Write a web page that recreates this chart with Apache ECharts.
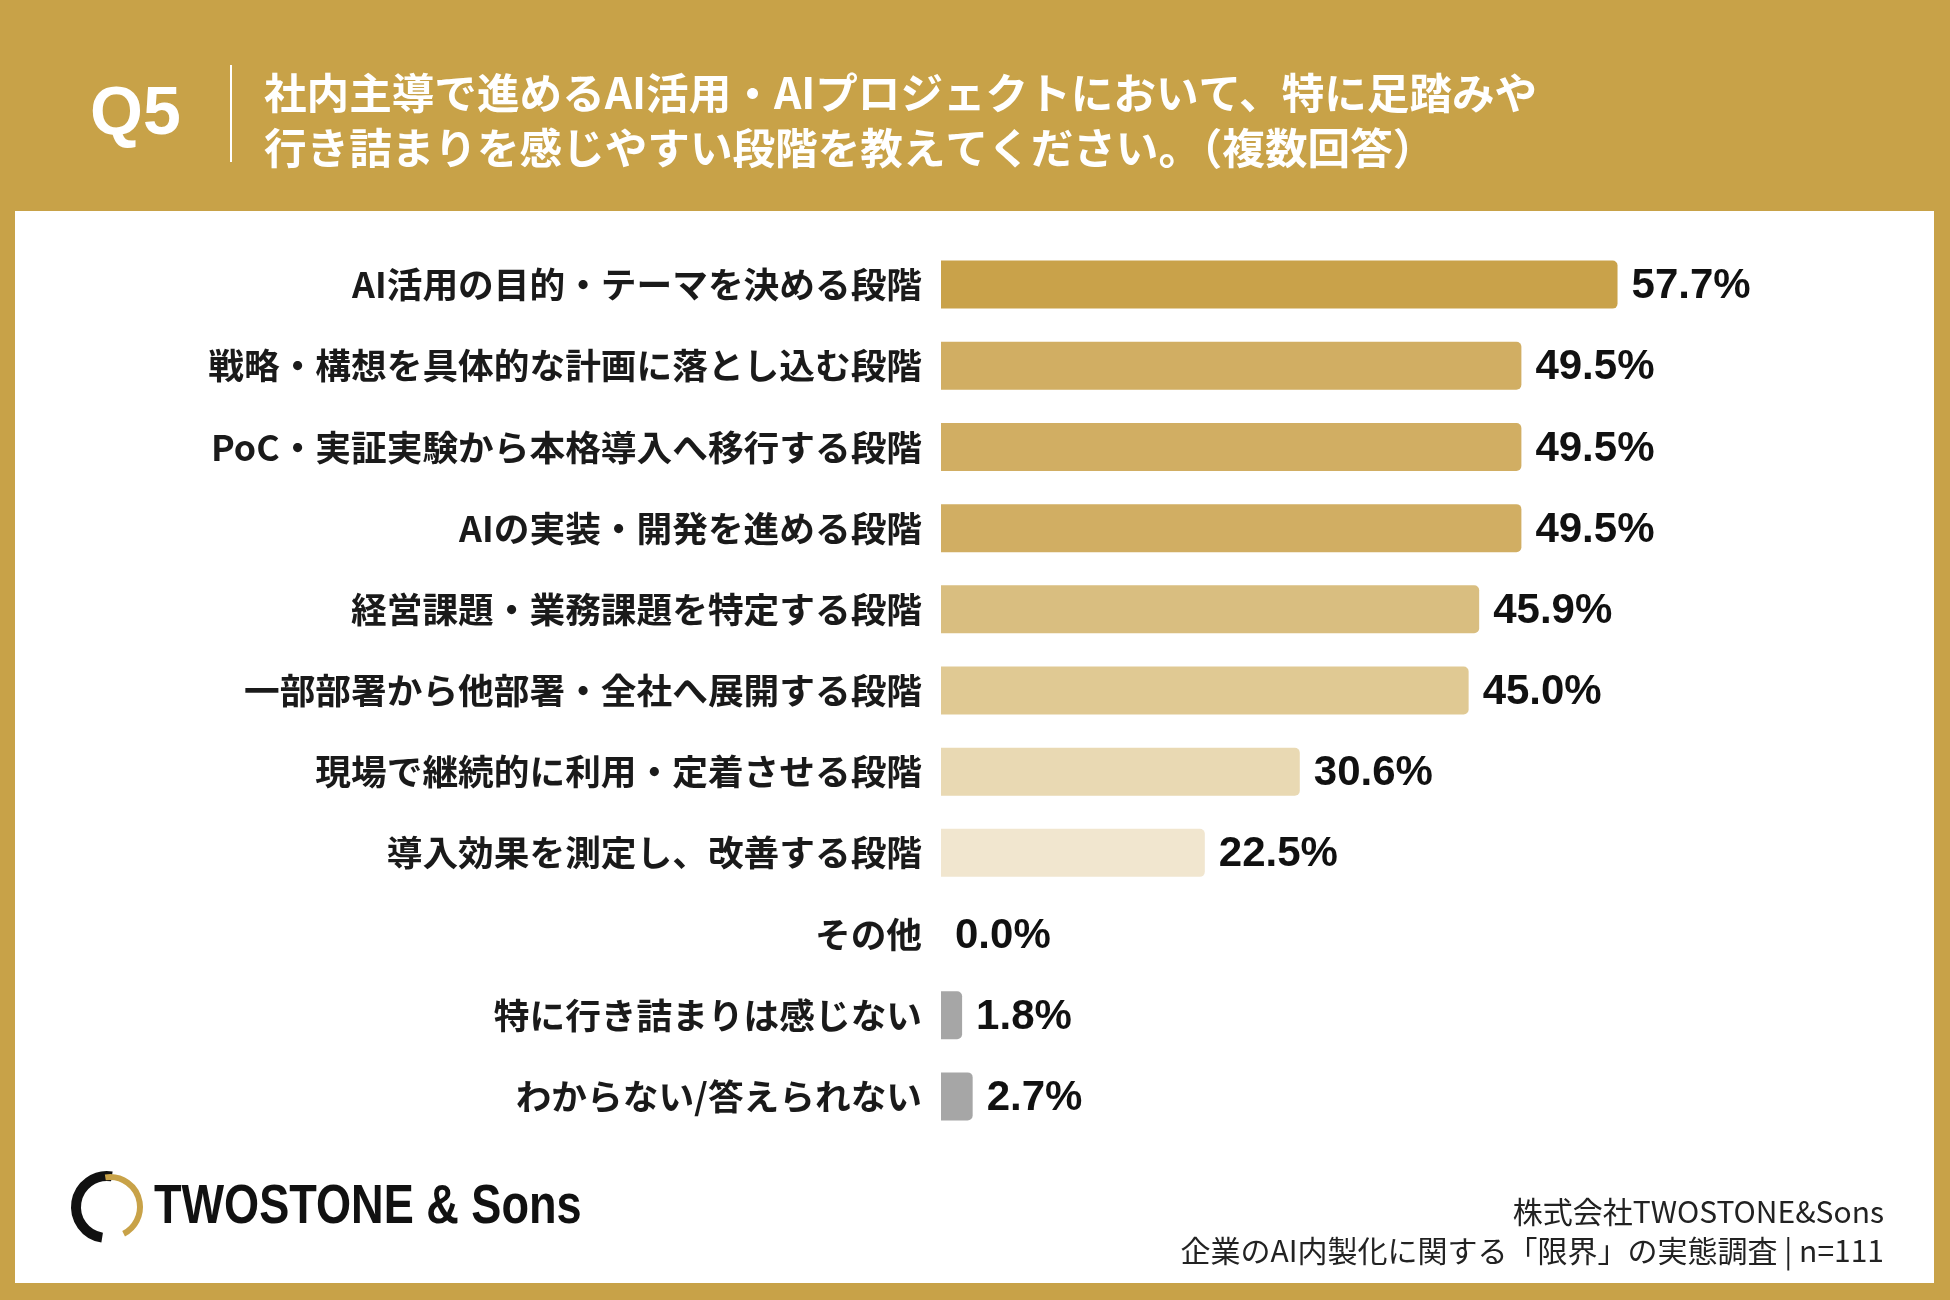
<!DOCTYPE html>
<html>
<head>
<meta charset="utf-8">
<title>Q5</title>
<script src="https://cdn.jsdelivr.net/npm/echarts@6/dist/echarts.min.js"></script>
<style>
  html, body { margin: 0; padding: 0; background: #C8A248; }
  #main { width: 1950px; height: 1300px; }
</style>
</head>
<body>
<div id="main"></div>
<script>
// データ
var categories = [
  'AI活用の目的・テーマを決める段階',
  '戦略・構想を具体的な計画に落とし込む段階',
  'PoC・実証実験から本格導入へ移行する段階',
  'AIの実装・開発を進める段階',
  '経営課題・業務課題を特定する段階',
  '一部部署から他部署・全社へ展開する段階',
  '現場で継続的に利用・定着させる段階',
  '導入効果を測定し、改善する段階',
  'その他',
  '特に行き詰まりは感じない',
  'わからない/答えられない'
];
var values = [57.7, 49.5, 49.5, 49.5, 45.9, 45.0, 30.6, 22.5, 0.0, 1.8, 2.7];

// 色（上から順）
var barColors = ['#C9A24A', '#D1AE63', '#D1AE63', '#D1AE63', '#D9BE80', '#E0C993',
                 '#E9D9B3', '#F1E6CF', '#F1E6CF', '#A6A6A6', '#A6A6A6'];

var titleLines = [
  '社内主導で進めるAI活用・AIプロジェクトにおいて、特に足踏みや',
  '行き詰まりを感じやすい段階を教えてください。（複数回答）'
];
var footerLines = ['株式会社TWOSTONE&Sons', '企業のAI内製化に関する「限界」の実態調査 | n=111'];

var JP = '"Noto Sans CJK JP", "Noto Sans", sans-serif';
var NUM = '"Liberation Sans", Arial, sans-serif';

var myChart = echarts.init(document.getElementById('main'));

var option = {
  backgroundColor: '#C8A248',
  animation: false,
  grid: { left: 941, right: 71, top: 244, height: 893 },
  xAxis: {
    type: 'value', min: 0, max: 80,
    show: false
  },
  yAxis: {
    type: 'category',
    data: categories,
    inverse: true,
    axisLine: { show: false },
    axisTick: { show: false },
    axisLabel: {
      margin: 19,
      fontFamily: JP,
      fontWeight: 'bold',
      fontSize: 35.7,
      color: '#1a1a1a'
    }
  },
  series: [{
    type: 'bar',
    barWidth: 48,
    data: values.map(function (v, i) {
      return { value: v, itemStyle: { color: barColors[i] } };
    }),
    itemStyle: { borderRadius: [0, 5, 5, 0] },
    label: {
      show: true,
      position: 'right',
      distance: 14,
      offset: [0, 2],
      fontFamily: NUM,
      fontWeight: 'bold',
      fontSize: 42,
      color: '#111',
      formatter: function (p) { return p.value.toFixed(1) + '%'; }
    }
  }],
  graphic: [
    // 白いパネル
    { type: 'rect', z: -10, shape: { x: 15, y: 211, width: 1919, height: 1072 }, style: { fill: '#fff' } },
    // ヘッダー
    { type: 'text', x: 90, y: 115, style: { text: 'Q5', fill: '#fff', font: 'bold 68px ' + NUM, verticalAlign: 'middle' } },
    { type: 'rect', shape: { x: 230, y: 65, width: 2, height: 97 }, style: { fill: '#fff' } },
    { type: 'text', x: 264, y: 93, style: { text: titleLines[0], fill: '#fff', font: 'bold 42.6px ' + JP, verticalAlign: 'middle' } },
    { type: 'text', x: 264, y: 148, style: { text: titleLines[1], fill: '#fff', font: 'bold 42.6px ' + JP, verticalAlign: 'middle' } },
    // ロゴ
    { type: 'arc', shape: { cx: 107, cy: 1207, r: 31, startAngle: Math.PI * 0.55, endAngle: Math.PI * 1.55, clockwise: true },
      style: { fill: 'none', stroke: '#111', lineWidth: 10 } },
    { type: 'arc', shape: { cx: 110, cy: 1207, r: 30, startAngle: Math.PI * 1.45, endAngle: Math.PI * 2.35, clockwise: true },
      style: { fill: 'none', stroke: '#C8A248', lineWidth: 6 } },
    { type: 'text', x: 154, y: 1208, scaleX: 0.82,
      style: { text: 'TWOSTONE & Sons', fill: '#111', font: 'bold 55px ' + NUM, verticalAlign: 'middle' } },
    // 出典
    { type: 'text', x: 1884, y: 1212, style: { text: footerLines[0], fill: '#222', font: '30px ' + JP, align: 'right', verticalAlign: 'middle' } },
    { type: 'text', x: 1884, y: 1251, style: { text: footerLines[1], fill: '#222', font: '30px ' + JP, align: 'right', verticalAlign: 'middle' } }
  ]
};
myChart.setOption(option);
</script>
</body>
</html>
